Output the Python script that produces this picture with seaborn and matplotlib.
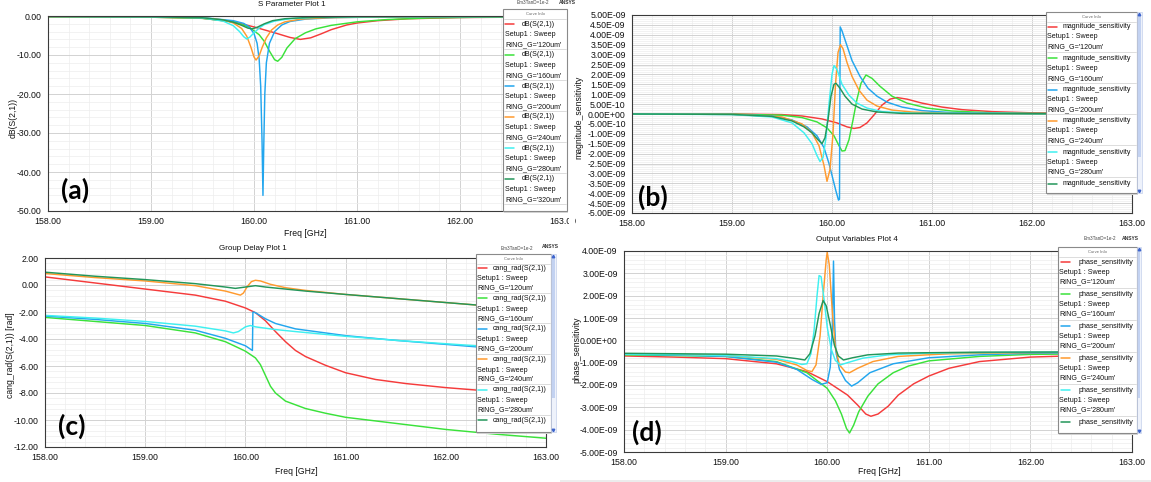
import matplotlib
matplotlib.use("Agg")
import matplotlib.pyplot as plt
import seaborn as sns
import pandas as pd
from matplotlib.patches import Rectangle
from matplotlib.ticker import MultipleLocator, FuncFormatter

# ---------------- data ----------------
rings = ["120um", "160um", "200um", "240um", "280um", "320um"]
line_colors = ["#f53b3b", "#3ae23a", "#22a6ee", "#ff9a2e", "#3ef0f0", "#23965a"]
freq_ticks = [158.0, 159.0, 160.0, 161.0, 162.0, 163.0]

# (a) dB(S(2,1))
a_freq_120 = [158.0, 159.0, 159.5, 159.8, 160.0, 160.2, 160.35, 160.45, 160.55, 160.65, 160.75, 160.9, 161.0, 161.2, 161.5, 162.0, 163.0]
a_db_120 = [-0.2, -0.3, -0.6, -1.5, -2.8, -4.3, -5.5, -6.0, -5.6, -4.6, -3.5, -2.3, -1.8, -1.2, -0.7, -0.4, -0.2]
a_freq_160 = [158.0, 159.0, 159.5, 159.8, 159.95, 160.05, 160.1, 160.15, 160.2, 160.23, 160.27, 160.32, 160.4, 160.5, 160.6, 160.75, 161.0, 161.3, 161.7, 162.2, 163.0]
a_db_160 = [-0.2, -0.3, -0.6, -1.5, -2.8, -4.8, -6.5, -9.0, -11.2, -11.6, -10.6, -8.2, -5.8, -4.3, -3.3, -2.4, -1.5, -0.9, -0.5, -0.3, -0.2]
a_freq_200 = [158.0, 159.0, 159.5, 159.8, 159.9, 159.95, 160.0, 160.03, 160.05, 160.065, 160.078, 160.087, 160.095, 160.105, 160.12, 160.15, 160.2, 160.27, 160.35, 160.5, 160.8, 161.5, 163.0]
a_db_200 = [-0.1, -0.2, -0.4, -1.2, -1.9, -2.7, -4.5, -7.0, -11.0, -18.0, -32.0, -46.0, -33.0, -20.0, -12.0, -7.0, -4.0, -2.3, -1.4, -0.8, -0.4, -0.2, -0.1]
a_freq_240 = [158.0, 159.0, 159.5, 159.7, 159.8, 159.88, 159.93, 159.97, 160.0, 160.02, 160.05, 160.08, 160.12, 160.17, 160.23, 160.3, 160.45, 160.7, 161.2, 162.0, 163.0]
a_db_240 = [-0.1, -0.2, -0.5, -1.0, -1.8, -3.2, -5.2, -8.0, -10.5, -11.3, -10.2, -8.0, -5.6, -3.6, -2.3, -1.5, -0.8, -0.45, -0.25, -0.15, -0.1]
a_freq_280 = [158.0, 159.0, 159.5, 159.7, 159.8, 159.86, 159.9, 159.93, 159.96, 160.0, 160.05, 160.1, 160.2, 160.35, 160.6, 161.2, 163.0]
a_db_280 = [-0.1, -0.2, -0.5, -1.3, -2.5, -4.0, -5.3, -5.9, -5.4, -4.3, -3.1, -2.2, -1.3, -0.7, -0.35, -0.2, -0.1]
a_freq_320 = [158.0, 159.0, 159.5, 159.7, 159.8, 159.88, 159.94, 159.98, 160.03, 160.1, 160.18, 160.3, 160.5, 161.0, 163.0]
a_db_320 = [-0.1, -0.2, -0.45, -1.0, -1.6, -2.4, -3.1, -3.3, -2.9, -2.0, -1.2, -0.7, -0.4, -0.2, -0.1]

# (b) magnitude_sensitivity, in units of 1E-09
b_freq_120 = [158.0, 159.0, 159.5, 159.7, 159.9, 160.05, 160.15, 160.22, 160.28, 160.35, 160.42, 160.5, 160.58, 160.65, 160.75, 160.9, 161.1, 161.3, 161.6, 162.0, 162.5, 163.0]
b_mag_120 = [0.0, 0.0, -0.03, -0.1, -0.25, -0.45, -0.65, -0.73, -0.68, -0.45, -0.05, 0.45, 0.75, 0.83, 0.75, 0.55, 0.35, 0.22, 0.12, 0.06, 0.03, 0.02]
b_freq_160 = [158.0, 159.0, 159.5, 159.7, 159.85, 159.95, 160.02, 160.07, 160.1, 160.13, 160.17, 160.21, 160.25, 160.29, 160.34, 160.4, 160.48, 160.6, 160.75, 160.95, 161.2, 161.6, 162.0, 163.0]
b_mag_160 = [0.0, -0.01, -0.06, -0.18, -0.4, -0.7, -1.1, -1.6, -1.87, -1.85, -1.3, -0.3, 0.75, 1.55, 1.97, 1.8, 1.4, 0.9, 0.55, 0.3, 0.15, 0.06, 0.03, 0.01]
b_freq_200 = [158.0, 159.0, 159.4, 159.6, 159.75, 159.85, 159.92, 159.97, 160.01, 160.04, 160.065, 160.075, 160.078, 160.082, 160.1, 160.14, 160.2, 160.28, 160.36, 160.45, 160.55, 160.7, 160.9, 161.2, 162.0, 163.0]
b_mag_200 = [0.0, -0.02, -0.1, -0.3, -0.65, -1.1, -1.7, -2.5, -3.3, -3.9, -4.35, -4.3, 0.0, 4.4, 4.2, 3.6, 2.7, 1.9, 1.3, 0.9, 0.6, 0.35, 0.17, 0.07, 0.02, 0.0]
b_freq_240 = [158.0, 159.0, 159.5, 159.7, 159.8, 159.87, 159.92, 159.95, 159.98, 160.01, 160.035, 160.06, 160.085, 160.11, 160.15, 160.2, 160.27, 160.35, 160.45, 160.6, 160.8, 161.2, 163.0]
b_mag_240 = [0.0, -0.02, -0.15, -0.5, -0.95, -1.6, -2.6, -3.4, -2.8, -1.0, 1.5, 3.1, 3.5, 3.3, 2.6, 1.9, 1.2, 0.7, 0.4, 0.2, 0.1, 0.03, 0.0]
b_freq_280 = [158.0, 159.0, 159.4, 159.6, 159.72, 159.8, 159.85, 159.88, 159.91, 159.94, 159.97, 160.0, 160.02, 160.05, 160.1, 160.17, 160.25, 160.35, 160.5, 160.8, 163.0]
b_mag_280 = [0.0, -0.03, -0.15, -0.45, -0.95, -1.5, -2.1, -2.4, -2.2, -1.2, 0.5, 2.0, 2.45, 2.25, 1.5, 0.95, 0.55, 0.3, 0.12, 0.04, 0.0]
b_freq_320 = [158.0, 159.0, 159.4, 159.6, 159.72, 159.8, 159.86, 159.9, 159.93, 159.96, 159.99, 160.02, 160.04, 160.08, 160.13, 160.2, 160.3, 160.45, 160.7, 163.0]
b_mag_320 = [0.0, -0.02, -0.12, -0.35, -0.65, -0.95, -1.3, -1.5, -1.2, -0.3, 0.9, 1.5, 1.55, 1.3, 0.9, 0.5, 0.25, 0.1, 0.03, 0.0]

# (c) cang_rad(S(2,1)) [rad]
c_freq_120 = [158.0, 158.5, 159.0, 159.5, 159.8, 160.0, 160.1, 160.2, 160.3, 160.4, 160.5, 160.6, 160.8, 161.0, 161.3, 161.6, 162.0, 162.5, 163.0]
c_rad_120 = [0.6, 0.15, -0.3, -0.75, -1.2, -1.7, -2.05, -2.65, -3.45, -4.2, -4.85, -5.3, -5.95, -6.5, -7.0, -7.3, -7.6, -7.9, -8.2]
c_freq_160 = [158.0, 158.5, 159.0, 159.5, 159.8, 160.0, 160.1, 160.15, 160.2, 160.25, 160.3, 160.4, 160.6, 160.8, 161.0, 161.5, 162.0, 162.5, 163.0]
c_rad_160 = [-2.4, -2.7, -3.0, -3.55, -4.2, -4.9, -5.4, -5.9, -6.7, -7.5, -8.0, -8.6, -9.15, -9.5, -9.8, -10.25, -10.7, -11.05, -11.35]
c_freq_200 = [158.0, 158.5, 159.0, 159.5, 159.8, 160.0, 160.07, 160.075, 160.1, 160.2, 160.3, 160.5, 160.8, 161.0, 161.5, 162.0, 162.5, 163.0]
c_rad_200 = [-2.3, -2.55, -2.85, -3.35, -3.95, -4.5, -4.85, -2.0, -2.05, -2.5, -2.85, -3.25, -3.55, -3.75, -4.1, -4.4, -4.7, -4.95]
c_freq_240 = [158.0, 158.5, 159.0, 159.5, 159.8, 159.9, 159.95, 159.98, 160.02, 160.06, 160.1, 160.15, 160.25, 160.4, 160.6, 161.0, 161.5, 162.0, 162.5, 163.0]
c_rad_240 = [0.85, 0.55, 0.3, -0.05, -0.45, -0.65, -0.75, -0.6, -0.1, 0.25, 0.35, 0.3, 0.05, -0.2, -0.4, -0.7, -1.0, -1.3, -1.6, -1.85]
c_freq_280 = [158.0, 158.5, 159.0, 159.5, 159.8, 159.88, 159.93, 160.0, 160.05, 160.1, 160.3, 160.5, 161.0, 161.5, 162.0, 162.5, 163.0]
c_rad_280 = [-2.25, -2.45, -2.7, -3.05, -3.4, -3.55, -3.45, -3.1, -3.0, -3.1, -3.3, -3.45, -3.8, -4.1, -4.35, -4.6, -4.85]
c_freq_320 = [158.0, 158.5, 159.0, 159.5, 159.8, 159.9, 160.0, 160.1, 160.2, 160.4, 160.6, 161.0, 161.5, 162.0, 162.5, 163.0]
c_rad_320 = [0.95, 0.65, 0.4, 0.1, -0.15, -0.25, -0.15, -0.05, -0.15, -0.3, -0.45, -0.7, -1.0, -1.3, -1.6, -1.85]

# (d) phase_sensitivity, in units of 1E-09
d_freq_120 = [158.0, 158.5, 159.0, 159.5, 159.8, 160.0, 160.2, 160.3, 160.38, 160.43, 160.5, 160.6, 160.7, 160.85, 161.0, 161.2, 161.5, 162.0, 162.5, 163.0]
d_ph_120 = [-0.7, -0.75, -0.82, -1.05, -1.4, -1.85, -2.45, -2.9, -3.3, -3.4, -3.3, -2.95, -2.45, -1.95, -1.6, -1.25, -0.95, -0.75, -0.68, -0.65]
d_freq_160 = [158.0, 158.5, 159.0, 159.5, 159.8, 160.0, 160.08, 160.14, 160.19, 160.22, 160.26, 160.31, 160.4, 160.5, 160.65, 160.8, 161.0, 161.5, 162.0, 163.0]
d_ph_160 = [-0.65, -0.68, -0.72, -0.95, -1.45, -2.15, -2.7, -3.3, -3.95, -4.15, -3.8, -3.2, -2.5, -1.95, -1.45, -1.15, -0.92, -0.72, -0.63, -0.58]
d_freq_200 = [158.0, 158.5, 159.0, 159.5, 159.7, 159.85, 159.94, 160.0, 160.03, 160.05, 160.062, 160.072, 160.085, 160.12, 160.18, 160.24, 160.3, 160.42, 160.65, 161.0, 161.5, 162.0, 163.0]
d_ph_200 = [-0.62, -0.66, -0.72, -0.98, -1.3, -1.75, -1.97, -1.9, -1.2, 0.5, 3.55, 0.9, -0.5, -1.3, -1.8, -2.05, -1.9, -1.45, -1.05, -0.78, -0.65, -0.58, -0.55]
d_freq_240 = [158.0, 158.5, 159.0, 159.5, 159.7, 159.8, 159.85, 159.89, 159.93, 159.96, 159.99, 160.0, 160.02, 160.05, 160.08, 160.12, 160.18, 160.22, 160.3, 160.45, 160.7, 161.2, 162.0, 163.0]
d_ph_240 = [-0.6, -0.63, -0.68, -0.85, -1.1, -1.35, -1.4, -1.1, 0.2, 2.0, 3.6, 3.95, 3.4, 1.3, -0.3, -1.1, -1.42, -1.45, -1.25, -0.95, -0.72, -0.6, -0.55, -0.53]
d_freq_280 = [158.0, 158.5, 159.0, 159.5, 159.65, 159.75, 159.8, 159.84, 159.87, 159.9, 159.92, 159.94, 159.97, 160.0, 160.04, 160.08, 160.13, 160.2, 160.35, 160.6, 161.0, 162.0, 163.0]
d_ph_280 = [-0.62, -0.64, -0.68, -0.82, -0.95, -1.08, -1.05, -0.6, 0.4, 2.0, 2.9, 2.85, 1.8, 0.6, -0.4, -0.9, -1.1, -1.0, -0.8, -0.65, -0.57, -0.53, -0.52]
d_freq_320 = [158.0, 158.5, 159.0, 159.5, 159.7, 159.78, 159.83, 159.88, 159.92, 159.96, 159.99, 160.03, 160.07, 160.11, 160.16, 160.25, 160.4, 160.7, 161.5, 163.0]
d_ph_320 = [-0.58, -0.6, -0.62, -0.7, -0.82, -0.88, -0.6, 0.2, 1.2, 1.78, 1.55, 0.7, -0.2, -0.7, -0.88, -0.78, -0.65, -0.57, -0.53, -0.52]

# ---------------- figure ----------------
sns.set_style("white")
plt.rcParams["font.family"] = ["Liberation Sans", "DejaVu Sans"]

W, H = 1151, 482
fig = plt.figure(figsize=(W / 100, H / 100), dpi=100)
palette = dict(zip(rings, line_colors))


def px_axes(x0, y0, x1, y1):
    return fig.add_axes([x0 / W, 1 - y1 / H, (x1 - x0) / W, (y1 - y0) / H])


def frame(freqs, vals):
    parts = [pd.DataFrame({"freq": f, "value": v, "RING_G": r}) for f, v, r in zip(freqs, vals, rings)]
    return pd.concat(parts, ignore_index=True)


def style(ax, ylim, ymaj, ymin, fmt):
    ax.set_xlim(158, 163)
    ax.set_ylim(*ylim)
    ax.set_xticks(freq_ticks)
    ax.xaxis.set_minor_locator(MultipleLocator(0.2))
    ax.yaxis.set_major_locator(MultipleLocator(ymaj))
    ax.yaxis.set_minor_locator(MultipleLocator(ymin))
    ax.xaxis.set_major_formatter(FuncFormatter(lambda v, p: f"{v:.2f}"))
    ax.yaxis.set_major_formatter(FuncFormatter(fmt))
    ax.grid(True, which="major", color="#d2d2d2", lw=0.7)
    ax.grid(True, which="minor", color="#ededed", lw=0.5)
    ax.set_axisbelow(True)
    for s in ax.spines.values():
        s.set_color("#3a3a3a")
        s.set_linewidth(0.8)
    ax.tick_params(which="major", direction="out", length=3, width=0.6, labelsize=6.3,
                   colors="#3a3a3a", labelcolor="#111111", pad=1.5)
    ax.tick_params(which="minor", direction="out", length=1.8, width=0.5, colors="#3a3a3a")
    ax.set_xlabel("")
    ax.set_ylabel("")


def set_labels(ax, box, xlabel=None, xpos=None, ylabel=None, ypos=None):
    x0, y0, x1, y1 = box
    if xlabel:
        ax.set_xlabel(xlabel, fontsize=6.2, color="#111111")
        ax.xaxis.set_label_coords((xpos[0] - x0) / (x1 - x0), (y1 - xpos[1]) / (y1 - y0))
        ax.xaxis.label.set_va("center")
    if ylabel:
        ax.set_ylabel(ylabel, fontsize=6.2, color="#111111")
        ax.yaxis.set_label_coords((ypos[0] - x0) / (x1 - x0), (y1 - ypos[1]) / (y1 - y0))
        ax.yaxis.label.set_va("center")


def dec_fmt(v, p):
    return f"{round(v, 6) + 0.0:.2f}"


def sci_fmt(v, p):
    return f"{round(v, 6) * 1e-9 + 0.0:.2E}"


panels = [
    dict(box=(48, 16, 563, 211), df=frame([a_freq_120, a_freq_160, a_freq_200, a_freq_240, a_freq_280, a_freq_320],
                                          [a_db_120, a_db_160, a_db_200, a_db_240, a_db_280, a_db_320]),
         ylim=(-50, 0), ymaj=10, ymin=2, fmt=dec_fmt,
         title=("S Parameter Plot 1", 292, 5), xlabel=("Freq [GHz]", (305, 233)), ylabel=("dB(S(2,1))", (13, 118))),
    dict(box=(632, 15, 1132, 213), df=frame([b_freq_120, b_freq_160, b_freq_200, b_freq_240, b_freq_280, b_freq_320],
                                            [b_mag_120, b_mag_160, b_mag_200, b_mag_240, b_mag_280, b_mag_320]),
         ylim=(-5, 5), ymaj=0.5, ymin=0.1, fmt=sci_fmt,
         title=None, xlabel=None, ylabel=("magnitude_sensitivity", (579, 117))),
    dict(box=(45, 258, 546, 447), df=frame([c_freq_120, c_freq_160, c_freq_200, c_freq_240, c_freq_280, c_freq_320],
                                           [c_rad_120, c_rad_160, c_rad_200, c_rad_240, c_rad_280, c_rad_320]),
         ylim=(-12, 2), ymaj=2, ymin=0.4, fmt=dec_fmt,
         title=("Group Delay Plot 1", 253, 249), xlabel=("Freq [GHz]", (296, 471)),
         ylabel=("cang_rad(S(2,1)) [rad]", (11, 355))),
    dict(box=(624, 251, 1132, 452), df=frame([d_freq_120, d_freq_160, d_freq_200, d_freq_240, d_freq_280, d_freq_320],
                                             [d_ph_120, d_ph_160, d_ph_200, d_ph_240, d_ph_280, d_ph_320]),
         ylim=(-5, 4), ymaj=1, ymin=0.2, fmt=sci_fmt,
         title=("Output Variables Plot 4", 857, 240), xlabel=("Freq [GHz]", (879, 472)),
         ylabel=("phase_sensitivity", (577, 350))),
]

for pnl in panels:
    ax = px_axes(*pnl["box"])
    sns.lineplot(data=pnl["df"], x="freq", y="value", hue="RING_G", palette=palette,
                 estimator=None, sort=False, legend=False, linewidth=1.05, ax=ax)
    style(ax, pnl["ylim"], pnl["ymaj"], pnl["ymin"], pnl["fmt"])
    x0, y0, x1, y1 = pnl["box"]
    if pnl["title"]:
        t, tx, ty = pnl["title"]
        ax.set_title(t, fontsize=5.8, color="#111111", x=(tx - x0) / (x1 - x0),
                     y=(y1 - ty) / (y1 - y0), pad=0, va="center")
    set_labels(ax, pnl["box"],
               xlabel=pnl["xlabel"][0] if pnl["xlabel"] else None,
               xpos=pnl["xlabel"][1] if pnl["xlabel"] else None,
               ylabel=pnl["ylabel"][0], ypos=pnl["ylabel"][1])

# ---------------- overlay: curve-info boxes, tags, panel letters ----------------
ov = fig.add_axes([0, 0, 1, 1], zorder=10)
ov.set_xlim(0, W)
ov.set_ylim(H, 0)
ov.set_axis_off()
ov.patch.set_alpha(0)


def curve_info(box, first, y_first, dy, offs, sw_x, txt_x, set_x, scroll=None, fs=5.1):
    x0, y0, x1, y1 = box
    ov.add_patch(Rectangle((x0 + 1.5, y0 + 1.5), x1 - x0, y1 - y0, fc="#d6d6d6", ec="none", zorder=1))
    ov.add_patch(Rectangle((x0, y0), x1 - x0, y1 - y0, fc="white", ec="#8a8a8a", lw=0.8, zorder=2))
    ov.text((x0 + x1) / 2, y0 + 5, "Curve Info", fontsize=3.0, color="#666666", ha="center", va="center", zorder=3)
    ov.plot([x0 + 1, x1 - 1], [y0 + 9.5] * 2, color="#cfcfcf", lw=0.5, zorder=3)
    for i, (ring, col) in enumerate(zip(rings, line_colors)):
        yy = y_first + dy * i
        if yy > y1 - 4:
            break
        ov.plot([sw_x, sw_x + 9], [yy, yy], color=col, lw=1.1, zorder=3)
        rows = [(first, txt_x), ("Setup1 : Sweep", set_x), (f"RING_G='{ring}'", set_x)]
        for j, (t, xx) in enumerate(rows):
            ty = yy + offs[j]
            if ty > y1 - 4:
                break
            ov.text(xx, ty, t, fontsize=fs, va="center", ha="left", color="#111111", zorder=3)
        sep = yy + offs[3]
        if sep < y1 - 2:
            ov.plot([x0 + 1, x1 - 1], [sep, sep], color="#cfcfcf", lw=0.5, zorder=3)
    if scroll:
        sx0, sx1, thumb_end = scroll
        ov.add_patch(Rectangle((sx0, y0), sx1 - sx0, y1 - y0, fc="#eef2fb", ec="#b8c6e8", lw=0.4, zorder=2))
        ov.add_patch(Rectangle((sx0 + 0.6, y0 + 4), sx1 - sx0 - 1.2, thumb_end - y0 - 4,
                               fc="#c3d2f1", ec="none", zorder=3))
        ov.plot([(sx0 + sx1) / 2], [y0 + 2], marker="^", ms=1.8, color="#3d64cc", zorder=4)
        ov.plot([(sx0 + sx1) / 2], [y1 - 2], marker="v", ms=1.8, color="#3d64cc", zorder=4)


curve_info((503, 9, 567, 211), "dB(S(2,1))", 24, 31, (0, 10.7, 20.7, 25.3), 505, 522, 505)
curve_info((1046, 12, 1137, 193), "magnitude_sensitivity", 27, 31.3, (0, 10, 20, 24.5), 1048, 1063, 1047,
           scroll=(1137, 1142, 157))
curve_info((476, 254, 551, 432), "cang_rad(S(2,1))", 268, 30.4, (0, 11, 20, 25), 478, 493, 477,
           scroll=(551, 556, 398))
curve_info((1058, 247, 1137, 433), "phase_sensitivity", 262, 32, (0, 10, 20, 26), 1061, 1079, 1059,
           scroll=(1137, 1141, 398))

# small tool tags
for (ex, ey), (nx, ny) in [((533, 3), (567, 3)), ((517, 248), (550, 247)), ((1100, 239), (1130, 238))]:
    ov.text(ex, ey, "Em3TanD=1e-2", fontsize=3.3, color="#444444", ha="center", va="center")
    ov.text(nx, ny, "ANSYS", fontsize=3.6, color="#333333", ha="center", va="center", fontweight="bold")

# cut-off of the last tick label of panel (a)
ov.add_patch(Rectangle((569, 216), 6, 16, fc="white", ec="none", zorder=5))
# light strip at the bottom of the right half
ov.add_patch(Rectangle((560, 480), W - 560, 2, fc="#ececec", ec="none", zorder=1))

# panel letters
for lab, (lx, ly) in [("(a)", (75, 190)), ("(b)", (653, 197)), ("(c)", (72, 426)), ("(d)", (647, 432))]:
    ov.text(lx, ly, lab, fontsize=19, fontweight="bold", family=["Lato", "DejaVu Sans"],
            ha="center", va="center", color="#000000", zorder=6)

fig.savefig("out.png", dpi=100, facecolor="white")
